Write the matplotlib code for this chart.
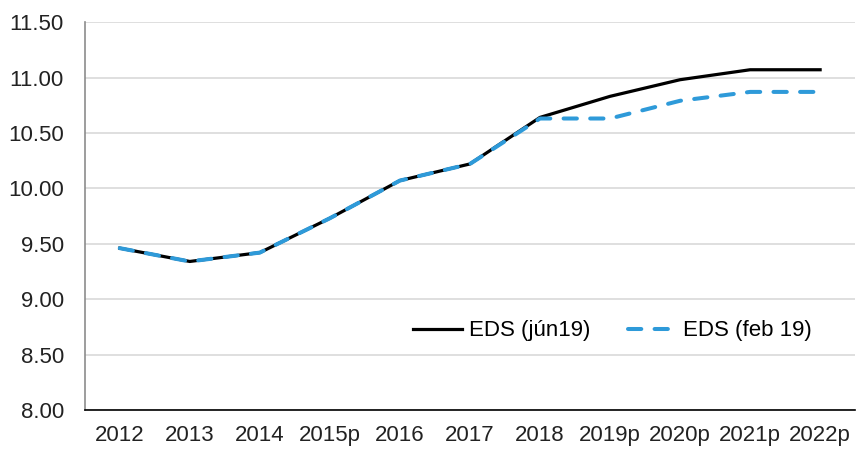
import matplotlib
matplotlib.use("Agg")
import matplotlib.pyplot as plt

plt.rcParams['font.family'] = ['Liberation Sans', 'DejaVu Sans']

years = ['2012', '2013', '2014', '2015p', '2016', '2017', '2018',
         '2019p', '2020p', '2021p', '2022p']
eds_jun19 = [9.46, 9.34, 9.42, 9.73, 10.07, 10.22, 10.64, 10.83, 10.98, 11.07, 11.07]
eds_feb19 = [9.46, 9.34, 9.42, 9.73, 10.07, 10.22, 10.63, 10.63, 10.79, 10.87, 10.87]
yticks = [8.0, 8.5, 9.0, 9.5, 10.0, 10.5, 11.0, 11.5]

fig = plt.figure(figsize=(8.56, 4.51), dpi=100)
ax = fig.add_axes([0.099, 0.091, 0.9, 0.86])

x = range(len(years))
ax.plot(x, eds_jun19, color='black', lw=2.3, label='EDS (jún19)', zorder=3)
ax.plot(x, eds_feb19, color='#2e9ad9', lw=2.9, dashes=(3.3, 3.3),
        dash_capstyle='round', label='EDS (feb 19)', zorder=4)

ax.set_xlim(-0.5, len(years) - 0.5)
ax.set_ylim(8.0, 11.5)
ax.set_xticks(list(x))
ax.set_xticklabels(years)
ax.set_yticks(yticks)
ax.set_yticklabels([f'{v:.2f}' for v in yticks])
ax.tick_params(axis='both', length=0, labelsize=16, colors='#222222')
ax.tick_params(axis='y', pad=15)
ax.tick_params(axis='x', pad=11)

ax.grid(axis='y', color='#d9d9d9', lw=1.2)
ax.set_axisbelow(True)
for s in ['top', 'right']:
    ax.spines[s].set_visible(False)
ax.spines['left'].set_color('#8c8c8c')
ax.spines['left'].set_linewidth(1.2)
ax.spines['bottom'].set_color('black')
ax.spines['bottom'].set_linewidth(1.2)

ax.legend(loc='lower right', bbox_to_anchor=(0.97, 0.125), ncol=2, frameon=False,
          fontsize=16, handlelength=2.2, handletextpad=0.3, columnspacing=1.7)

fig.savefig('out.png', dpi=100)
